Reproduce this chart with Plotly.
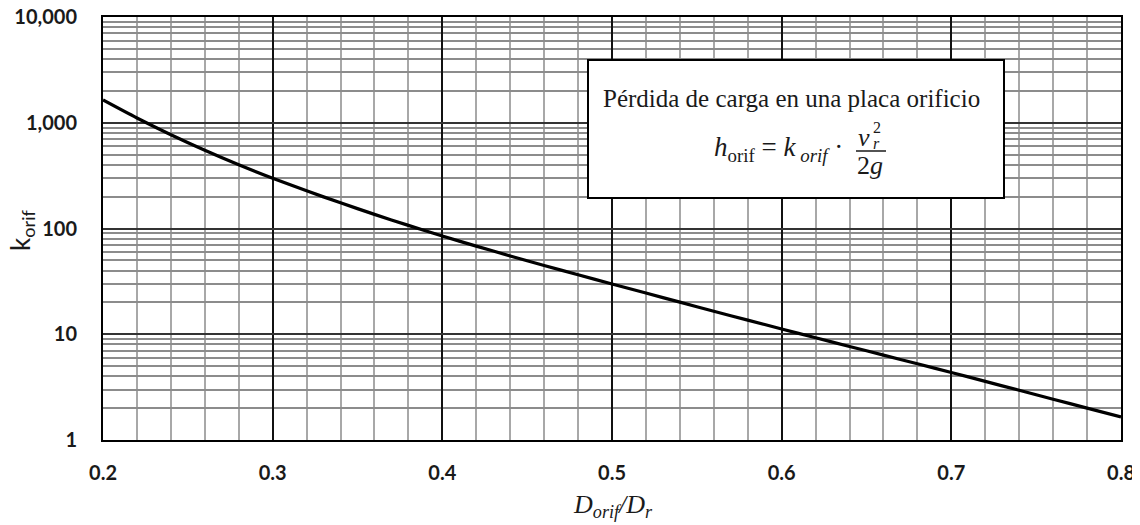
import plotly.graph_objects as go

# Data
d_ratio = [0.20, 0.22, 0.24, 0.26, 0.28, 0.30, 0.32, 0.34, 0.36, 0.38, 0.40,
           0.42, 0.44, 0.46, 0.48, 0.50, 0.52, 0.54, 0.56, 0.58, 0.60,
           0.62, 0.64, 0.66, 0.68, 0.70, 0.72, 0.74, 0.76, 0.78, 0.80]
k_orif = [1641, 1109, 771, 550, 401, 299, 227, 175, 136, 107, 84.9,
          68.1, 55.0, 44.7, 36.5, 29.9, 24.5, 20.1, 16.5, 13.6, 11.2,
          9.25, 7.66, 6.34, 5.25, 4.35, 3.58, 2.95, 2.43, 2.00, 1.65]

ytick_vals = [1, 10, 100, 1000, 10000]
ytick_text = ["1", "10", "100", "1,000", "10,000"]
xtick_vals = [0.2, 0.3, 0.4, 0.5, 0.6, 0.7, 0.8]
xtick_text = ["0.2", "0.3", "0.4", "0.5", "0.6", "0.7", "0.8"]

box_title = "Pérdida de carga en una placa orificio"

# page body has an 8px margin; size the figure so it fits the window
OFF = 8
W, H = 1140 - OFF, 525 - OFF
PL, PR, PT, PB = 103, 1121, 17, 440  # plot area in screen pixels
L, R, T, B = PL - OFF, (OFF + W) - PR, PT - OFF, (OFF + H) - PB
pw, ph = PR - PL, PB - PT


def px(x):
    return (x - PL) / pw


def py(y):
    return (PB - y) / ph


fig = go.Figure()
fig.add_trace(go.Scatter(x=d_ratio, y=k_orif, mode="lines",
                         line=dict(color="black", width=3.2, shape="spline", smoothing=0.8),
                         showlegend=False, hoverinfo="x+y"))

tick_font = dict(family="Lato", size=20, color="#1a1a1a", weight="bold")

fig.update_xaxes(
    range=[0.2, 0.8], tickvals=xtick_vals, ticktext=xtick_text,
    showgrid=True, gridcolor="#111111", gridwidth=2,
    minor=dict(dtick=0.02, showgrid=True, gridcolor="#a8a8a8", gridwidth=1.5),
    showline=True, linecolor="black", linewidth=2, mirror=True,
    ticks="", ticklabelstandoff=14, tickfont=tick_font, zeroline=False,
    automargin=False, ticklabeloverflow="allow",
)
fig.update_yaxes(
    type="log", range=[-0.0005, 4.0005], tickvals=ytick_vals, ticktext=ytick_text,
    showgrid=True, gridcolor="#333333", gridwidth=2,
    minor=dict(dtick="D1", showgrid=True, gridcolor="#8c8c8c", gridwidth=1.5),
    showline=True, linecolor="black", linewidth=2, mirror=True,
    ticks="", ticklabelstandoff=20, tickfont=tick_font, zeroline=False,
    automargin=False, ticklabeloverflow="allow",
)

serif = "Liberation Serif"
ink = "#1a1a1a"


def note(text, x, y, size, family=serif, **kw):
    d = dict(text=text, x=px(x), y=py(y), xref="paper", yref="paper",
             xanchor="center", yanchor="middle", showarrow=False,
             font=dict(family=family, size=size, color=ink))
    d.update(kw)
    return d


ann = [
    note("k<sub>orif</sub>", 22, 230, 26, family="Lato", textangle=-90),
    note("<i>D<sub>orif</sub>/D<sub>r</sub></i>", 613, 506, 26),
    note(box_title, 791, 99, 25),
    note("<i>h</i><sub>orif</sub> = <i>k</i><sub><i> orif</i></sub> ·", 845, 149, 27,
         xanchor="right"),
    note("<i>v</i>", 864, 137, 26),
    note("2", 877, 127, 16),
    note("<i>r</i>", 876, 143, 16),
    note("2<i>g</i>", 870, 166, 26),
]

shapes = [
    dict(type="rect", xref="paper", yref="paper", x0=px(588), x1=px(1004),
         y0=py(198), y1=py(60), line=dict(color="black", width=2), fillcolor="white",
         layer="above"),
    dict(type="line", xref="paper", yref="paper", x0=px(856), x1=px(886),
         y0=py(151), y1=py(151), line=dict(color=ink, width=1.5), layer="above"),
]

fig.update_layout(
    width=W, height=H, margin=dict(l=L, r=R, t=T, b=B, autoexpand=False),
    plot_bgcolor="white", paper_bgcolor="white",
    annotations=ann, shapes=shapes, showlegend=False,
)

fig.write_html("out.html")
